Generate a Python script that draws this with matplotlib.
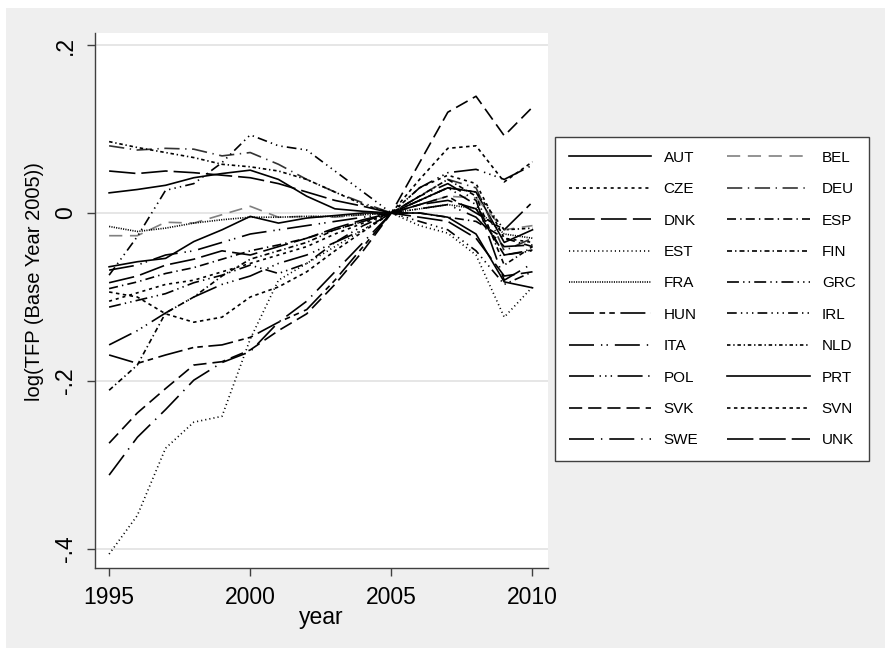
import numpy as np
import matplotlib
matplotlib.use("Agg")
import matplotlib.pyplot as plt
from matplotlib.patches import Rectangle

# log(TFP), base year 2005
years = np.arange(1995, 2011)

AUT = [0.024, 0.028, 0.033, 0.042, 0.047, 0.051, 0.040, 0.020, 0.005, 0.002, 0.0, 0.015, 0.030, 0.025, -0.035, -0.020]
BEL = [-0.027, -0.027, -0.011, -0.012, -0.002, 0.008, -0.005, -0.004, -0.005, -0.002, 0.0, 0.010, 0.020, 0.018, -0.020, -0.015]
CZE = [-0.105, -0.095, -0.085, -0.080, -0.070, -0.060, -0.050, -0.040, -0.025, -0.012, 0.0, 0.030, 0.045, 0.035, -0.030, -0.035]
DEU = [0.080, 0.075, 0.077, 0.076, 0.068, 0.072, 0.058, 0.040, 0.025, 0.012, 0.0, 0.020, 0.040, 0.030, -0.045, -0.030]
DNK = [-0.083, -0.075, -0.062, -0.055, -0.045, -0.050, -0.040, -0.030, -0.018, -0.008, 0.0, -0.005, -0.010, -0.030, -0.075, -0.070]
ESP = [-0.090, -0.082, -0.072, -0.065, -0.055, -0.045, -0.038, -0.030, -0.020, -0.010, 0.0, 0.000, -0.005, -0.010, -0.030, -0.040]
EST = [-0.406, -0.360, -0.280, -0.249, -0.242, -0.150, -0.080, -0.060, -0.040, -0.020, 0.0, -0.015, -0.024, -0.050, -0.124, -0.088]
FIN = [-0.211, -0.181, -0.119, -0.100, -0.075, -0.055, -0.045, -0.035, -0.020, -0.010, 0.0, 0.020, 0.040, 0.020, -0.062, -0.040]
FRA = [-0.016, -0.022, -0.018, -0.012, -0.008, -0.005, -0.005, -0.004, -0.004, -0.002, 0.0, 0.005, 0.010, 0.005, -0.025, -0.030]
GRC = [-0.112, -0.104, -0.096, -0.083, -0.074, -0.062, -0.072, -0.060, -0.035, -0.015, 0.0, 0.015, 0.030, 0.010, -0.050, -0.045]
HUN = [-0.169, -0.179, -0.169, -0.160, -0.157, -0.148, -0.130, -0.115, -0.080, -0.040, 0.0, 0.010, 0.020, 0.000, -0.020, 0.013]
IRL = [-0.074, -0.028, 0.027, 0.035, 0.060, 0.093, 0.080, 0.075, 0.050, 0.025, 0.0, -0.010, -0.020, -0.045, -0.085, -0.070]
ITA = [-0.068, -0.062, -0.050, -0.045, -0.035, -0.025, -0.020, -0.015, -0.010, -0.005, 0.0, 0.005, 0.010, -0.005, -0.040, -0.038]
NLD = [0.085, 0.078, 0.072, 0.066, 0.058, 0.055, 0.050, 0.040, 0.025, 0.010, 0.0, 0.015, 0.030, 0.025, -0.020, -0.018]
POL = [-0.157, -0.140, -0.119, -0.100, -0.085, -0.075, -0.060, -0.050, -0.035, -0.020, 0.0, 0.030, 0.048, 0.052, 0.040, 0.057]
PRT = [-0.064, -0.058, -0.054, -0.034, -0.020, -0.004, -0.012, -0.006, -0.003, 0.000, 0.0, 0.000, -0.005, -0.025, -0.082, -0.089]
SVK = [-0.274, -0.238, -0.209, -0.181, -0.177, -0.163, -0.140, -0.120, -0.085, -0.045, 0.0, 0.060, 0.120, 0.139, 0.092, 0.126]
SVN = [-0.094, -0.100, -0.120, -0.130, -0.124, -0.100, -0.088, -0.070, -0.045, -0.022, 0.0, 0.040, 0.077, 0.080, 0.037, 0.061]
SWE = [-0.312, -0.267, -0.234, -0.199, -0.178, -0.165, -0.130, -0.105, -0.070, -0.035, 0.0, 0.020, 0.035, 0.015, -0.080, -0.060]
UNK = [0.050, 0.047, 0.050, 0.048, 0.045, 0.042, 0.035, 0.025, 0.015, 0.008, 0.0, 0.010, 0.015, 0.005, -0.050, -0.044]

countries = ["AUT", "BEL", "CZE", "DEU", "DNK", "ESP", "EST", "FIN", "FRA", "GRC",
             "HUN", "IRL", "ITA", "NLD", "POL", "PRT", "SVK", "SVN", "SWE", "UNK"]
series = [AUT, BEL, CZE, DEU, DNK, ESP, EST, FIN, FRA, GRC,
          HUN, IRL, ITA, NLD, POL, PRT, SVK, SVN, SWE, UNK]

yticks = [0.2, 0.0, -0.2, -0.4]
ytick_labels = [".2", "0", "-.2", "-.4"]
xticks = [1995, 2000, 2005, 2010]

# stata-ish line patterns (points, not scaled by width)
patterns = {
    "AUT": "-", "BEL": (0, (9.5, 5.5)), "CZE": (0, (2.2, 2.8)),
    "DEU": (0, (11, 4, 1, 4)), "DNK": (0, (18.5, 4.5)), "ESP": (0, (6.5, 3, 1, 3)),
    "EST": (0, (0.8, 2.2)), "FIN": (0, (3.6, 2.2, 1, 2.2)), "FRA": (0, (0.8, 0.9)),
    "GRC": (0, (8.6, 3, 1, 3, 1, 3)), "HUN": (0, (18, 4, 4, 3, 4, 4)),
    "IRL": (0, (7, 3, 1, 3, 1, 3, 1, 3)), "ITA": (0, (18, 5, 1, 3, 1, 5)),
    "NLD": (0, (2.5, 2, 1, 2)), "POL": (0, (18, 4, 1, 3, 1, 3, 1, 4)), "PRT": "-",
    "SVK": (0, (9.5, 4.3)), "SVN": (0, (2.5, 2.5)), "SWE": (0, (18, 5, 1, 5)),
    "UNK": (0, (19, 4.3)),
}
colors = {"BEL": "#808080", "DEU": "#333333"}

plt.rcParams["font.family"] = ["Liberation Sans", "DejaVu Sans"]
plt.rcParams["lines.scale_dashes"] = False

fig = plt.figure(figsize=(8.85, 6.48), dpi=100, facecolor="white")
fig.patches.append(Rectangle((6 / 885, 0), 1, 640 / 648, transform=fig.transFigure,
                             facecolor="#efefef", edgecolor="none", zorder=-10))

ax = fig.add_axes([95 / 885, 80 / 648, 453 / 885, 535 / 648])
ax.set_facecolor("white")

handles = {}
for c, vals in zip(countries, series):
    line, = ax.plot(years, vals, color=colors.get(c, "black"), linestyle=patterns[c],
                    linewidth=1.2, label=c)
    handles[c] = line

ax.set_xlim(1994.5, 2010.55)
ax.set_ylim(-0.4226, 0.2143)
ax.set_yticks(yticks)
ax.set_yticklabels(ytick_labels, rotation=90, va="center")
ax.set_xticks(xticks)
ax.grid(axis="y", color="#e6e6e6", linewidth=1.4)
ax.set_axisbelow(True)

for s in ["top", "right"]:
    ax.spines[s].set_visible(False)
for s in ["left", "bottom"]:
    ax.spines[s].set_color("#404040")
    ax.spines[s].set_linewidth(1.0)

ax.tick_params(axis="both", colors="#404040", labelcolor="black", length=6, width=1.0,
               labelsize=16.5, pad=7)
ax.set_xlabel("year", fontsize=16.5, labelpad=-2)
ax.set_ylabel("log(TFP (Base Year 2005))", fontsize=14.5)
ax.yaxis.set_label_coords(-0.112, 0.535)

# stata fills the legend row by row, matplotlib column by column
order = countries[0::2] + countries[1::2]
leg = ax.legend([handles[c] for c in order], order, ncol=2, loc="upper left",
                bbox_to_anchor=(555 / 885, 1 - 137 / 648),
                bbox_transform=fig.transFigure, borderaxespad=0, fontsize=11,
                handlelength=5.4, handletextpad=0.8, columnspacing=1.9,
                labelspacing=1.14, borderpad=0.9, fancybox=False, framealpha=1)
leg.get_frame().set_edgecolor("#404040")
leg.get_frame().set_linewidth(1.0)

fig.savefig("out.png", dpi=100, facecolor="white")
